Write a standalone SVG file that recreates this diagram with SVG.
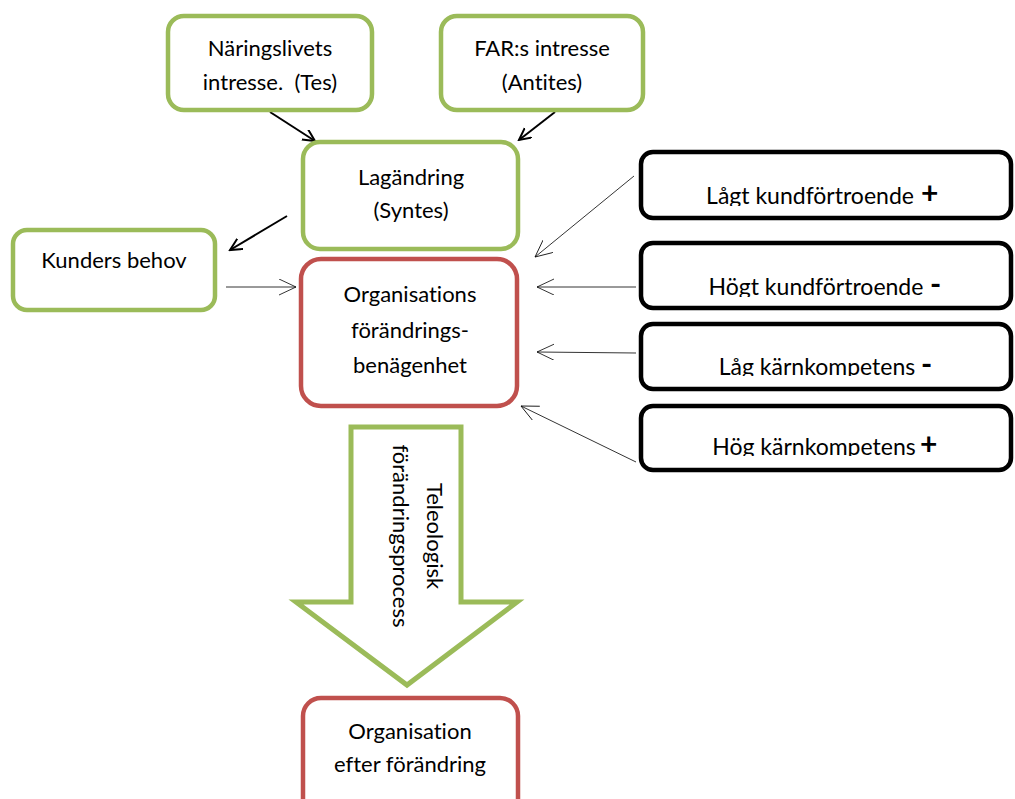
<svg xmlns="http://www.w3.org/2000/svg" width="1015" height="799" viewBox="0 0 1015 799">
<style>
.g{fill:#fff;stroke:#9BBB59;stroke-width:4.5}
.r{fill:#fff;stroke:#C0504D;stroke-width:4.5}
.b{fill:#fff;stroke:#000;stroke-width:4.5}
text{font-family:Lato,"Open Sans","Liberation Sans",sans-serif;font-size:22px;fill:#000;text-anchor:middle;font-variant-ligatures:none}
.k{font-size:23px}
.s{font-weight:bold;font-size:30px;text-anchor:start}
.thick{stroke:#000;stroke-width:2;fill:none}
.thin{stroke:#000;stroke-width:0.8;fill:none}
</style>
<defs>
<marker id="ah" markerWidth="14" markerHeight="14" refX="12" refY="6" orient="auto" markerUnits="userSpaceOnUse"><path d="M0,0 L12,6 L0,12" fill="none" stroke="#000" stroke-width="2"/></marker>
<marker id="at" markerWidth="20" markerHeight="20" refX="17" refY="8" orient="auto" markerUnits="userSpaceOnUse"><path d="M0,0 L17,8 L0,16" fill="none" stroke="#000" stroke-width="0.8"/></marker>
<clipPath id="c1"><rect x="641" y="152" width="370" height="54"/></clipPath>
<clipPath id="c2"><rect x="641" y="243" width="370" height="54"/></clipPath>
<clipPath id="c3"><rect x="641" y="324" width="370" height="52"/></clipPath>
<clipPath id="c4"><rect x="641" y="406" width="370" height="50"/></clipPath>
</defs>
<g id="connectors">
<line class="thick" x1="270" y1="112" x2="315" y2="141" marker-end="url(#ah)"/>
<line class="thick" x1="555" y1="112" x2="519" y2="140" marker-end="url(#ah)"/>
<line class="thick" x1="287" y1="216" x2="230" y2="250" marker-end="url(#ah)"/>
<line class="thin" x1="226" y1="287" x2="296" y2="287" marker-end="url(#at)"/>
<line class="thin" x1="634" y1="176" x2="535" y2="257" marker-end="url(#at)"/>
<line class="thin" x1="636" y1="287" x2="537" y2="287" marker-end="url(#at)"/>
<line class="thin" x1="636" y1="353" x2="537" y2="352" marker-end="url(#at)"/>
<line class="thin" x1="636" y1="462" x2="521" y2="406" marker-end="url(#at)"/>
</g>
<g id="naringslivet">
<rect class="g" x="168" y="16" width="204" height="94" rx="16"/>
<text x="270" y="56">Näringslivets</text>
<text x="270" y="90" xml:space="preserve">intresse.  (Tes)</text>
</g>
<g id="far">
<rect class="g" x="441" y="16" width="202" height="94" rx="16"/>
<text x="542" y="56">FAR:s intresse</text>
<text x="542" y="90">(Antites)</text>
</g>
<g id="lagandring">
<rect class="g" x="303" y="142" width="215" height="107" rx="17"/>
<text x="411" y="185">Lagändring</text>
<text x="411" y="218">(Syntes)</text>
</g>
<g id="kunder">
<rect class="g" x="13" y="230" width="202" height="80" rx="14"/>
<text x="114" y="268">Kunders behov</text>
</g>
<g id="organisations">
<rect class="r" x="301" y="259" width="216" height="147" rx="20"/>
<text x="410" y="302">Organisations</text>
<text x="410" y="338">förändrings-</text>
<text x="410" y="373">benägenhet</text>
</g>
<g id="lagt">
<rect class="b" x="641" y="152" width="370" height="66" rx="12"/>
<g clip-path="url(#c1)"><text class="k" x="810" y="204">Lågt kundförtroende</text></g>
<text class="s" x="921" y="204">+</text>
</g>
<g id="hogt">
<rect class="b" x="641" y="243" width="370" height="65" rx="12"/>
<g clip-path="url(#c2)"><text class="k" x="816" y="295">Högt kundförtroende</text></g>
<text class="s" x="930" y="295">-</text>
</g>
<g id="lag">
<rect class="b" x="641" y="324" width="370" height="65" rx="12"/>
<g clip-path="url(#c3)"><text class="k" x="817" y="375">Låg kärnkompetens</text></g>
<text class="s" x="921" y="375">-</text>
</g>
<g id="hog">
<rect class="b" x="641" y="406" width="370" height="64" rx="12"/>
<g clip-path="url(#c4)"><text class="k" x="814" y="455">Hög kärnkompetens</text></g>
<text class="s" x="920" y="455">+</text>
</g>
<g id="process">
<polygon points="351,427 461,427 461,602 517,602 407,685 296,602 351,602" fill="#fff" stroke="#9BBB59" stroke-width="5"/>
<text transform="translate(427,536) rotate(90)">Teleologisk</text>
<text transform="translate(393,536) rotate(90)">förändringsprocess</text>
</g>
<g id="efter">
<rect class="r" x="303" y="698" width="215" height="120" rx="18"/>
<text x="410" y="739">Organisation</text>
<text x="410" y="772">efter förändring</text>
</g>
</svg>
